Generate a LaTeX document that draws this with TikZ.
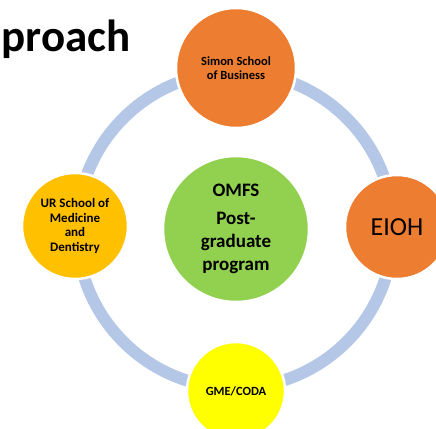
\documentclass[tikz,border=0pt]{standalone}
\usepackage{fontspec}
\setmainfont{Carlito}

\definecolor{ringblue}{HTML}{B4C7E7}
\definecolor{unitorange}{HTML}{ED7D31}
\definecolor{unitgold}{HTML}{FFC000}
\definecolor{unitgreen}{HTML}{92D050}
\definecolor{unityellow}{HTML}{FFFF00}

\tikzset{
  unit/.style={circle, draw=white, line width=2.5pt, align=center, inner sep=0pt},
  ring/.style={ringblue, line width=12pt}
}

\begin{document}
\begin{tikzpicture}[x=1pt,y=-1pt]
    \useasboundingbox (0,0) rectangle (436,428);
    \clip (0,0) rectangle (436,428);

    % Heading
    \node[anchor=base east, font=\bfseries\fontsize{45}{54}\selectfont, inner sep=0pt] (title) at (131,52) {proach};

    % Ring
    \coordinate (ctr) at (235,230);
    \draw[ring] (ctr) circle (158pt);

    % Units around the ring
    \node[unit, fill=unitorange, minimum size=120pt, font=\bfseries\fontsize{12.5}{14}\selectfont] (simon) at (236,68) {Simon School\\of Business};
    \node[unit, fill=unitgold, minimum size=106pt, font=\bfseries\fontsize{13}{14.5}\selectfont] (urmed) at (75,226) {UR School of\\Medicine\\and\\Dentistry};
    \node[unit, fill=unitorange, minimum size=104pt, font=\fontsize{26}{30}\selectfont] (eioh) at (397,227) {EIOH};
    \node[unit, fill=unityellow, minimum size=98pt, font=\bfseries\fontsize{12.5}{14}\selectfont] (gme) at (236,391) {GME/CODA};

    % Centre
    \node[unit, fill=unitgreen, minimum size=146pt, font=\bfseries\fontsize{19}{23}\selectfont] (omfs) at (236,229) {OMFS\\[5pt]Post-\\graduate\\program};

\end{tikzpicture}
\end{document}
